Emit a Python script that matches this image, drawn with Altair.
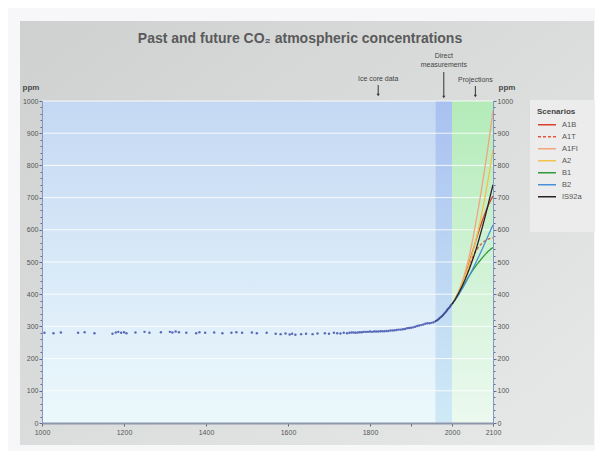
import altair as alt
import pandas as pd

W, H = 451, 322
FONT = "Liberation Sans"
TITLE = "Past and future CO₂ atmospheric concentrations"

# ---- data ----
ice_year = [1006, 1028, 1046, 1088, 1104, 1128, 1172, 1180, 1186, 1193,
            1200, 1206, 1228, 1250, 1262, 1290, 1312, 1318, 1326, 1334,
            1352, 1376, 1384, 1398, 1420, 1440, 1462, 1474, 1488, 1512,
            1524, 1548, 1570, 1582, 1594, 1604, 1610, 1618, 1632, 1644,
            1660, 1672, 1690, 1700, 1712, 1720, 1728, 1736, 1744, 1750,
            1755, 1760, 1765, 1770, 1775, 1780, 1785, 1790, 1795, 1800,
            1805, 1810, 1815, 1820, 1825, 1830, 1835, 1840, 1845, 1850,
            1855, 1860, 1865, 1870, 1875, 1880, 1885, 1890, 1895, 1900,
            1905, 1910, 1915, 1920, 1925, 1930, 1935, 1940, 1945, 1950,
            1955]
ice_ppm = [280, 279, 281, 280, 282, 279, 277, 281, 283, 280,
           282, 279, 281, 283, 280, 282, 283, 281, 284, 282,
           280, 279, 282, 280, 281, 279, 280, 282, 280, 281,
           279, 280, 277, 276, 278, 275, 277, 274, 276, 277,
           276, 278, 279, 277, 280, 279, 278, 280, 279, 280,
           281, 281, 280, 281, 282, 282, 283, 283, 283, 284,
           283, 284, 284, 284, 285, 285, 285, 286, 286, 287,
           287, 288, 289, 290, 290, 291, 292, 294, 295, 296,
           297, 299, 301, 303, 304, 306, 308, 310, 310, 311,
           313]

direct_year = [1958, 1962, 1966, 1970, 1974, 1978, 1982, 1986, 1990, 1994, 1998, 2000]
direct_ppm = [315, 318, 321, 326, 330, 335, 341, 347, 354, 359, 367, 369]

proj_year = [2000, 2010, 2020, 2030, 2040, 2050, 2060, 2070, 2080, 2090, 2100]
scenarios = ["A1B", "A1T", "A1FI", "A2", "B1", "B2", "IS92a"]
A1B = [369, 391, 418, 452, 490, 532, 574, 614, 649, 680, 705]
A1T = [369, 391, 419, 451, 484, 514, 538, 554, 565, 572, 575]
A1FI = [369, 392, 421, 459, 508, 567, 636, 710, 791, 877, 970]
A2 = [369, 390, 417, 448, 486, 529, 578, 634, 698, 770, 850]
B1 = [369, 388, 409, 431, 453, 473, 491, 507, 522, 535, 545]
B2 = [369, 386, 406, 428, 452, 477, 503, 530, 558, 587, 615]
IS92a = [369, 389, 413, 440, 471, 506, 545, 590, 637, 688, 740]
scenario_values = [A1B, A1T, A1FI, A2, B1, B2, IS92a]
scenario_colors = ["#d8402c", "#e3563a", "#f2a57c", "#f2c24e", "#2f9a3c", "#4a90d6", "#2a2222"]
scenario_dash = [[1, 0], [3, 2], [1, 0], [1, 0], [1, 0], [1, 0], [1, 0]]

band_names = ["Ice core data", "Direct measurements", "Projections"]
band_start = [1000, 1960, 2000]
band_end = [1960, 2000, 2100]
band_top = ["#c4d8f3", "#a9c1f0", "#b3ebb8"]
band_bottom = ["#ecf9fc", "#cfeaf6", "#ecf9f0"]

ann_text = ["Ice core data", "Direct\nmeasurements", "Projections"]
ann_year = [1820, 1980, 2057]

y_ticks = list(range(0, 1001, 20))
grid_ppm = list(range(100, 1001, 100))
x_ticks = [1000, 1200, 1400, 1600, 1800, 1900, 2000, 2100]

# ---- tables ----
ice_df = pd.DataFrame({"year": ice_year, "ppm": ice_ppm})
direct_df = pd.DataFrame({"year": direct_year, "ppm": direct_ppm})
proj_rows = []
for name, vals in zip(scenarios, scenario_values):
    for yr, v in zip(proj_year, vals):
        proj_rows.append({"year": yr, "ppm": v, "scenario": name})
proj_df = pd.DataFrame(proj_rows)
band_df = pd.DataFrame({"band": band_names, "start": band_start, "end": band_end})
grid_df = pd.DataFrame({"ppm": grid_ppm})
ann_df = pd.DataFrame({"label": ann_text, "year": ann_year})
one = pd.DataFrame({"k": [0]})

# ---- scales / axes ----
xscale = alt.Scale(domain=[1000, 2100], nice=False, zero=False)
yscale = alt.Scale(domain=[0, 1000], nice=False)

xax = alt.Axis(values=x_ticks, format="d", title=None, grid=False, zindex=1,
               labelExpr="datum.value === 1900 ? '' : datum.label",
               labelFlush=False, labelOverlap=False, labelFont=FONT,
               labelFontSize=7, labelColor="#555555", labelPadding=2,
               tickSize=3, tickColor="#666666", domainColor="#8d96ab",
               domainWidth=2)


def yaxis(orient):
    return alt.Axis(orient=orient, values=y_ticks, format="d", title=None,
                    grid=False, zindex=1,
                    labelExpr="datum.value % 100 === 0 ? datum.label : ''",
                    labelFlush=False, labelOverlap=False, labelFont=FONT,
                    labelFontSize=7, labelColor="#555555", labelPadding=1,
                    tickSize={"condition": {"test": "datum.value % 100 === 0", "value": 3}, "value": 2},
                    tickColor="#5b6aa0", domainColor="#8797c4", domainWidth=1)


yaxL = yaxis("left")
yaxR = yaxis("right")


def X(field):
    return alt.X(f"{field}:Q", scale=xscale, axis=xax)


def YL(field):
    return alt.Y(f"{field}:Q", scale=yscale, axis=yaxL)


def YR(field):
    return alt.Y(f"{field}:Q", scale=yscale, axis=yaxR)


def grad(c0, c1, diag=False):
    return alt.Gradient(gradient="linear",
                        stops=[alt.GradientStop(color=c0, offset=0),
                               alt.GradientStop(color=c1, offset=1)],
                        x1=0, y1=0, x2=1 if diag else 0, y2=1)


# ---- left group ----
panel = alt.Chart(one).mark_rect(fill=grad("#cfd1d1", "#e7e8e8", True)).encode(
    x=alt.value(-22), x2=alt.value(552), y=alt.value(-80), y2=alt.value(344))

bands = []
for name, c0, c1 in zip(band_names, band_top, band_bottom):
    bands.append(
        alt.Chart(band_df).transform_filter(alt.datum.band == name)
        .mark_rect(fill=grad(c0, c1))
        .encode(x=X("start"), x2="end", y=alt.value(0), y2=alt.value(H)))

grid = alt.Chart(grid_df).mark_rule(color="white", strokeWidth=1, opacity=0.85).encode(
    y=YL("ppm"), x=alt.value(0), x2=alt.value(W))

ice = alt.Chart(ice_df).mark_circle(size=6, color="#4a5cb0", opacity=0.9).encode(
    x=X("year"), y=YL("ppm"))

direct = alt.Chart(direct_df).mark_line(color="#3d4c95", strokeWidth=2, interpolate="monotone").encode(
    x=X("year"), y=YL("ppm"))

left = alt.layer(panel, *bands, grid, ice, direct)

# ---- right group ----
leg = alt.Legend(title="Scenarios", orient="none", legendX=495, legendY=7,
                 symbolType="stroke", symbolSize=324, symbolStrokeWidth=1.5,
                 clipHeight=11.5, rowPadding=0, padding=0, titleFont=FONT,
                 titleFontSize=8, titleFontWeight="bold", titleColor="#444444",
                 titlePadding=3, labelFont=FONT, labelFontSize=7.5,
                 labelColor="#555555", labelOffset=5)

legend_box = alt.Chart(one).mark_rect(fill="#ececec").encode(
    x=alt.value(488), x2=alt.value(553), y=alt.value(-1), y2=alt.value(131))

proj = alt.Chart(proj_df).mark_line(strokeWidth=1.3, interpolate="monotone").encode(
    x=X("year"), y=YR("ppm"),
    color=alt.Color("scenario:N", scale=alt.Scale(domain=scenarios, range=scenario_colors), legend=leg),
    strokeDash=alt.StrokeDash("scenario:N", scale=alt.Scale(domain=scenarios, range=scenario_dash), legend=leg),
    order=alt.Order("scenario:N"))


def annotation(label, text_y, top, bottom):
    d = alt.Chart(ann_df).transform_filter(alt.datum.label == label)
    t = d.mark_text(font=FONT, fontSize=7, color="#444444", lineBreak="\n", lineHeight=9,
                    baseline="bottom", align="center").encode(
        x=X("year"), y=alt.value(text_y), text="label:N")
    r = d.mark_rule(color="#333333", strokeWidth=1).encode(
        x=X("year"), y=alt.value(top), y2=alt.value(bottom))
    h = d.mark_point(shape="triangle-down", filled=True, size=10, color="#333333", opacity=1).encode(
        x=X("year"), y=alt.value(bottom))
    return [t, r, h]


anns = (annotation(ann_text[0], -19, -16, -6)
        + annotation(ann_text[1], -42, -29, -4)
        + annotation(ann_text[2], -18, -15, -5))

title = alt.Chart(one).mark_text(font=FONT, fontSize=14, fontWeight="bold", color="#5a5a5a",
                                 baseline="middle", align="center").encode(
    x=alt.value(258), y=alt.value(-62), text=alt.value(TITLE))

ppm_left = alt.Chart(one).mark_text(font=FONT, fontSize=8, fontWeight="bold", color="#4a4a4a",
                                    baseline="middle", align="center").encode(
    x=alt.value(-11), y=alt.value(-13), text=alt.value("ppm"))
ppm_right = alt.Chart(one).mark_text(font=FONT, fontSize=8, fontWeight="bold", color="#4a4a4a",
                                     baseline="middle", align="center").encode(
    x=alt.value(465), y=alt.value(-13), text=alt.value("ppm"))

right = alt.layer(legend_box, proj, *anns, title, ppm_left, ppm_right)

chart = alt.layer(left, right).resolve_scale(y="independent").properties(
    width=W, height=H,
    padding={"left": 34, "top": 93, "right": 102, "bottom": 28},
    autosize=alt.AutoSizeParams(type="none"),
    background="#f7f7f9",
).configure_view(stroke=None)

chart.save("out.html", embed_options={"renderer": "svg", "actions": False})
